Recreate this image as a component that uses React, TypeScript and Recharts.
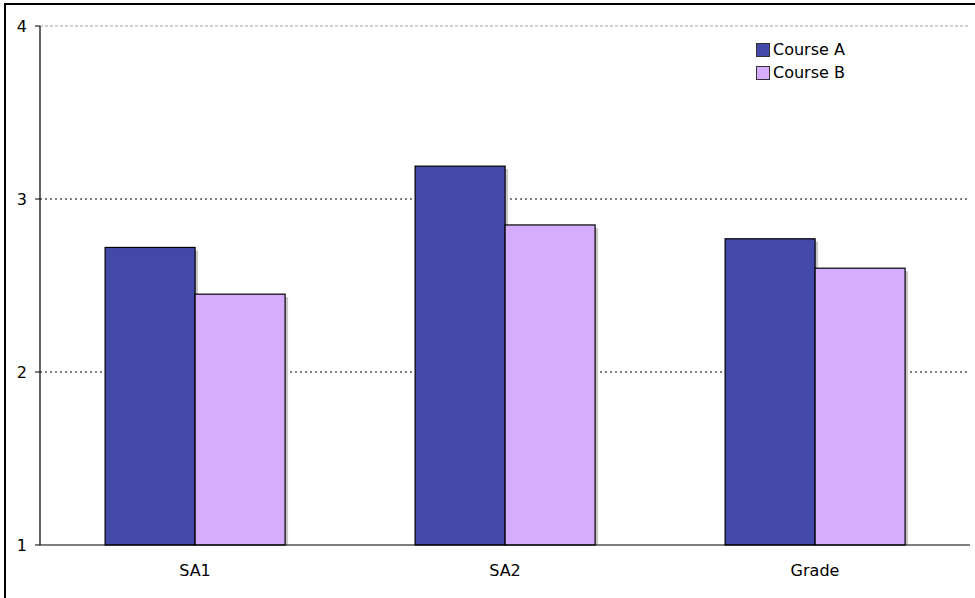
import React from 'react';
import {
    BarChart,
    Bar,
    XAxis,
    YAxis,
    CartesianGrid,
    ReferenceLine,
} from 'recharts';

const categories = ['SA1', 'SA2', 'Grade'];
const courseA = [2.72, 3.19, 2.77];
const courseB = [2.45, 2.85, 2.6];
const yTicks = [1, 2, 3, 4];
const seriesNames = ['Course A', 'Course B'];
const seriesColors = ['#4349A9', '#D6ADFE'];

const data = categories.map((name, i) => ({
    name,
    a: courseA[i],
    b: courseB[i],
}));

const font = '"DejaVu Sans", Verdana, sans-serif';

// bar with the little grey drop shadow on the right
const ShadowBar = (props: any) => {
    const { x, y, width, height, fill } = props;
    if (!height || height <= 0) return null;
    return (
        <g>
            <rect x={x + 3} y={y + 3} width={width} height={height - 3} fill="#c8c8c8" />
            <rect x={x} y={y} width={width} height={height} fill={fill} stroke="#000" strokeWidth={1.2} />
        </g>
    );
};

// legend sits over the plot, kept out of recharts' layout so it doesn't shift the axes
const LegendBox = () => (
    <div
        style={{
            position: 'absolute',
            left: 756,
            top: 38,
            fontFamily: font,
            fontSize: 16,
            color: '#000',
            lineHeight: '23px',
        }}
    >
        {seriesNames.map((n, i) => (
            <div key={n} style={{ display: 'flex', alignItems: 'center' }}>
                <span
                    style={{
                        display: 'inline-block',
                        width: 12,
                        height: 12,
                        background: seriesColors[i],
                        border: '1px solid #333',
                        marginRight: 3,
                    }}
                />
                <span>{n}</span>
            </div>
        ))}
    </div>
);

export default function App() {
    return (
        <div
            style={{
                position: 'absolute',
                left: 0,
                top: 0,
                width: 975,
                height: 598,
                overflow: 'hidden',
                background: '#fff',
            }}
        >
            <BarChart
                width={975}
                height={598}
                data={data}
                margin={{ top: 26, right: 5, left: 0, bottom: 0 }}
                barCategoryGap="21%"
                barGap={0}
            >
                <CartesianGrid
                    horizontal={true}
                    vertical={false}
                    horizontalValues={[2, 3]}
                    stroke="#000"
                    strokeDasharray="2 3"
                />
                <ReferenceLine y={4} stroke="#a0a0a0" strokeDasharray="3 2" />
                <XAxis
                    dataKey="name"
                    height={53}
                    axisLine={{ stroke: '#000', strokeWidth: 1.2 }}
                    tickLine={false}
                    tick={{ fontSize: 16, fill: '#000', fontFamily: font }}
                    tickMargin={14}
                />
                <YAxis
                    width={40}
                    domain={[1, 4]}
                    ticks={yTicks}
                    interval={0}
                    axisLine={{ stroke: '#000', strokeWidth: 1.2 }}
                    tickLine={{ stroke: '#000' }}
                    tickSize={5}
                    tickMargin={8}
                    tick={{ fontSize: 16, fill: '#000', fontFamily: font }}
                />
                <YAxis
                    yAxisId="right"
                    orientation="right"
                    width={0}
                    domain={[1, 4]}
                    tick={false}
                    tickLine={false}
                    axisLine={{ stroke: '#c0c0c0', strokeWidth: 2 }}
                />
                <Bar
                    dataKey="a"
                    name={seriesNames[0]}
                    fill={seriesColors[0]}
                    shape={<ShadowBar />}
                    isAnimationActive={false}
                />
                <Bar
                    dataKey="b"
                    name={seriesNames[1]}
                    fill={seriesColors[1]}
                    shape={<ShadowBar />}
                    isAnimationActive={false}
                />
            </BarChart>
            <LegendBox />
            <div
                style={{
                    position: 'absolute',
                    left: 4,
                    top: 3,
                    width: 1200,
                    height: 1000,
                    border: '2px solid #000',
                    pointerEvents: 'none',
                }}
            />
        </div>
    );
}
